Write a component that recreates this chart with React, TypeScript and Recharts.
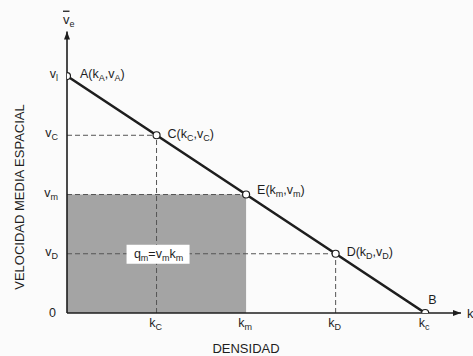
import React from 'react'
import {
  ComposedChart,
  Line,
  XAxis,
  YAxis,
  ReferenceArea,
  ReferenceLine,
  ReferenceDot,
  Label
} from 'recharts'

// densidad (k) y velocidad (v) de los puntos sobre la recta
const kValues = [0, 1, 2, 3, 4]
const vValues = [4, 3, 2, 1, 0]
const pointNames = ['A', 'C', 'E', 'D', 'B']
const pointSubs = ['A', 'C', 'm', 'D', '']

const kTicks = [1, 2, 3, 4]
const kTickLabels = ['C', 'm', 'D', 'c']
const vTicks = [0, 1, 2, 3, 4]
const vTickLabels = ['0', 'D', 'm', 'C', 'l']

const kC = 1
const kM = 2
const kD = 3
const vC = 3
const vM = 2
const vD = 1

const K_MAX = 4.4
const V_MAX = 4.75

const data = kValues.map((k, i) => ({ k, v: vValues[i], name: pointNames[i], sub: pointSubs[i] }))

const INK = '#1e1e1e'
const FONT = '"Liberation Sans", Arial, sans-serif'
const FS = 12.5
const SUB = 9

// desplazamiento de las etiquetas respecto al punto
const labelOffsets = [
  [13, 2],
  [11, 3],
  [11, -1],
  [11, 2],
  [3, -9]
]

function PointDot(props: any) {
  const { cx, cy, index, payload } = props
  const [dx, dy] = labelOffsets[index]
  return (
    <g key={`dot-${index}`}>
      <circle cx={cx} cy={cy} r={3.5} fill="#fff" stroke={INK} strokeWidth={1.2} />
      <text x={cx + dx} y={cy + dy} fontSize={FS} fill={INK} fontFamily={FONT}>
        {payload.sub ? (
          <>
            <tspan>{payload.name}(k</tspan>
            <tspan dy={3} fontSize={SUB}>{payload.sub}</tspan>
            <tspan dy={-3}>,v</tspan>
            <tspan dy={3} fontSize={SUB}>{payload.sub}</tspan>
            <tspan dy={-3}>)</tspan>
          </>
        ) : (
          <tspan>{payload.name}</tspan>
        )}
      </text>
    </g>
  )
}

function YTick(props: any) {
  const { x, y, payload, index } = props
  const lbl = vTickLabels[index]
  if (payload.value === 0) {
    return (
      <text x={x - 3} y={y + 4} textAnchor="end" fontSize={FS} fill={INK} fontFamily={FONT}>0</text>
    )
  }
  return (
    <text x={x - 1} y={y + 2} textAnchor="end" fontSize={FS} fill={INK} fontFamily={FONT}>
      <tspan>v</tspan>
      <tspan dy={3} fontSize={SUB}>{lbl}</tspan>
    </text>
  )
}

function XTick(props: any) {
  const { x, y, index } = props
  return (
    <text x={x - 1} y={y + 6} textAnchor="middle" fontSize={FS} fill={INK} fontFamily={FONT}>
      <tspan>k</tspan>
      <tspan dy={3} fontSize={SUB}>{kTickLabels[index]}</tspan>
    </text>
  )
}

const ArrowRight = (props: any) => (
  <g>
    <path d={`M${props.cx - 8},${props.cy - 3} L${props.cx},${props.cy} L${props.cx - 8},${props.cy + 3} Z`} fill={INK} />
    <text x={props.cx + 6} y={props.cy + 5} fontSize={13} fill={INK} fontFamily={FONT}>k</text>
  </g>
)

const ArrowUp = (props: any) => (
  <g>
    <path d={`M${props.cx - 3},${props.cy + 8} L${props.cx},${props.cy} L${props.cx + 3},${props.cy + 8} Z`} fill={INK} />
    <text x={props.cx - 4} y={props.cy - 8} fontSize={13} fill={INK} fontFamily={FONT}>
      <tspan textDecoration="overline">v</tspan>
      <tspan dy={3} fontSize={SUB}>e</tspan>
    </text>
  </g>
)

const FlowBox = (props: any) => (
  <g>
    <rect x={props.cx - 30} y={props.cy - 9} width={63} height={19} fill="#fff" />
    <text x={props.cx + 2} y={props.cy + 4} textAnchor="middle" fontSize={FS} fill={INK} fontFamily={FONT}>
      <tspan>q</tspan>
      <tspan dy={3} fontSize={SUB}>m</tspan>
      <tspan dy={-3}>=v</tspan>
      <tspan dy={3} fontSize={SUB}>m</tspan>
      <tspan dy={-3}>k</tspan>
      <tspan dy={3} fontSize={SUB}>m</tspan>
    </text>
  </g>
)

export default function App() {
  return (
    <div style={{ position: 'absolute', left: 0, top: 0, width: 473, height: 356, background: '#fbfbfb' }}>
      <ComposedChart
        width={473}
        height={356}
        data={data}
        margin={{ top: 31.6, right: 12, bottom: 13, left: 0 }}
      >
        <XAxis
          type="number"
          dataKey="k"
          domain={[0, K_MAX]}
          ticks={kTicks}
          tick={<XTick />}
          tickLine={false}
          axisLine={{ stroke: INK, strokeWidth: 1.6 }}
          height={30}
          allowDataOverflow
        >
          <Label
            content={() => (
              <text x={246} y={353} textAnchor="middle" fontSize={13} fill={INK} fontFamily={FONT}>DENSIDAD</text>
            )}
          />
        </XAxis>
        <YAxis
          type="number"
          domain={[0, V_MAX]}
          ticks={vTicks}
          tick={<YTick />}
          tickLine={false}
          axisLine={{ stroke: INK, strokeWidth: 1.6 }}
          width={67}
          allowDataOverflow
        >
          <Label
            content={() => (
              <text
                x={24}
                y={197}
                transform="rotate(-90 24 197)"
                textAnchor="middle"
                fontSize={13}
                fill={INK}
                fontFamily={FONT}
              >
                VELOCIDAD MEDIA ESPACIAL
              </text>
            )}
          />
        </YAxis>

        <ReferenceArea x1={0} x2={kM} y1={0} y2={vM} fill="#a4a4a4" fillOpacity={1} stroke="none" />

        <ReferenceLine segment={[{ x: 0, y: vM }, { x: kM, y: vM }]} stroke="#555" strokeDasharray="5 3" />
        <ReferenceLine segment={[{ x: 0, y: vC }, { x: kC, y: vC }]} stroke="#555" strokeDasharray="5 3" />
        <ReferenceLine segment={[{ x: kC, y: 0 }, { x: kC, y: vC }]} stroke="#555" strokeDasharray="5 3" />
        <ReferenceLine segment={[{ x: 0, y: vD }, { x: kD, y: vD }]} stroke="#555" strokeDasharray="5 3" />
        <ReferenceLine segment={[{ x: kD, y: 0 }, { x: kD, y: vD }]} stroke="#555" strokeDasharray="5 3" />

        <ReferenceDot x={kC} y={vD} r={0} shape={<FlowBox />} ifOverflow="visible" />
        <ReferenceDot x={K_MAX} y={0} r={0} shape={<ArrowRight />} ifOverflow="visible" />
        <ReferenceDot x={0} y={V_MAX} r={0} shape={<ArrowUp />} ifOverflow="visible" />

        <Line
          type="linear"
          dataKey="v"
          stroke={INK}
          strokeWidth={2.6}
          dot={PointDot}
          activeDot={false}
          isAnimationActive={false}
        />
      </ComposedChart>
    </div>
  )
}
